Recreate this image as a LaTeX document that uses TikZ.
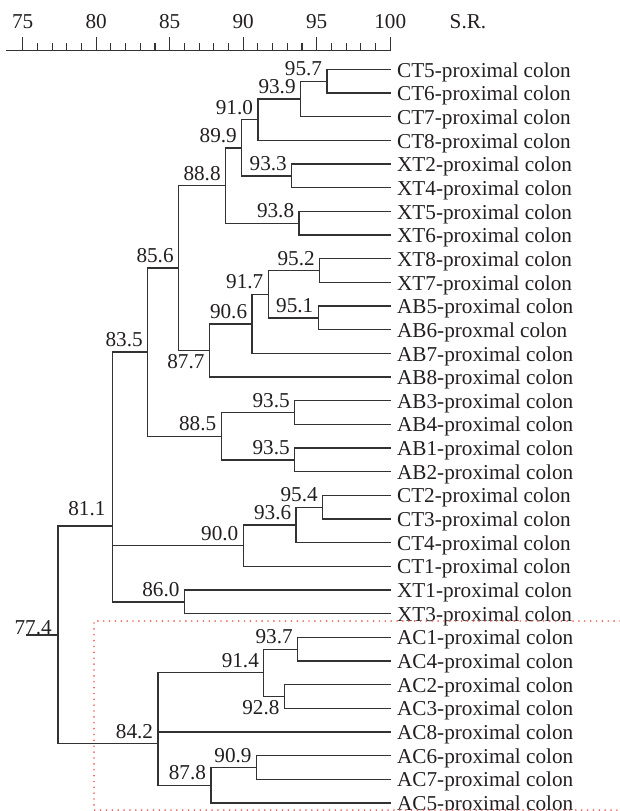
\documentclass[tikz,border=0pt]{standalone}
\usepackage{fontspec}
\setmainfont{Liberation Serif}
\usepackage{tikz}
\definecolor{treegray}{RGB}{50,50,50}
\definecolor{inkblack}{RGB}{35,31,32}
\definecolor{boxred}{RGB}{238,96,96}
\tikzset{
  strain/.style = {anchor=west, inner xsep=5pt, inner ysep=0pt,
    text height=11.4pt, text depth=0pt, text=inkblack},% leaf label
  simval/.style = {inner sep=0pt, text=inkblack},% similarity value
  simup/.style = {simval, anchor=base east, xshift=-3.5pt, yshift=4pt},
  simdown/.style = {simval, anchor=north east, xshift=-3.5pt, yshift=-3pt},
  branch/.style = {draw=treegray, line width=1pt, line cap=rect,
    to path={|- (\tikztotarget)}},
  rulerline/.style = {draw=treegray, line width=0.85pt},
  redbox/.style = {draw=boxred, line width=1.4pt, line cap=round,
    dash pattern=on 0pt off 4.4pt},
}

\begin{document}
\begin{tikzpicture}[x=11.025pt, y=-17.745pt, font=\fontsize{15.9}{18}\selectfont]
  \useasboundingbox (73.456,-2.937) rectangle (115.63,31.34);

  % scale
  \draw[rulerline] (73.86,-0.795) -- (100,-0.795);
  \foreach \v in {76,...,99}
    \draw[rulerline] (\v,-0.795) -- (\v,-1.107);
  \foreach \v in {75,80,...,100}{
    \draw[rulerline] (\v,-0.795) -- (\v,-1.361);
    \node[simval, anchor=base] (t\v) at (\v,-1.741) {\v};
  }
  \node[simval, anchor=base] (sr) at (105.29,-1.741) {S.R.};

  % leaves
  \foreach \nm/\txt [count=\i from 0] in {ct5/CT5-proximal colon, ct6/CT6-proximal colon,
      ct7/CT7-proximal colon, ct8/CT8-proximal colon, xt2/XT2-proximal colon,
      xt4/XT4-proximal colon, xt5/XT5-proximal colon, xt6/XT6-proximal colon,
      xt8/XT8-proximal colon, xt7/XT7-proximal colon, ab5/AB5-proximal colon,
      ab6/AB6-proxmal colon, ab7/AB7-proximal colon, ab8/AB8-proximal colon,
      ab3/AB3-proximal colon, ab4/AB4-proximal colon, ab1/AB1-proximal colon,
      ab2/AB2-proximal colon, ct2/CT2-proximal colon, ct3/CT3-proximal colon,
      ct4/CT4-proximal colon, ct1/CT1-proximal colon, xt1/XT1-proximal colon,
      xt3/XT3-proximal colon, ac1/AC1-proximal colon, ac4/AC4-proximal colon,
      ac2/AC2-proximal colon, ac3/AC3-proximal colon, ac8/AC8-proximal colon,
      ac6/AC6-proximal colon, ac7/AC7-proximal colon, ac5/AC5-proximal colon}
    \node[strain] (\nm) at (100,\i) {\txt};

  % joins
  \coordinate (s957) at (95.7,0.5);
  \coordinate (s939) at (93.9,1.25);
  \coordinate (s910) at (91.0,2.125);
  \coordinate (s933) at (93.3,4.5);
  \coordinate (s899) at (89.9,3.3125);
  \coordinate (s938) at (93.8,6.5);
  \coordinate (s888) at (88.8,4.906);
  \coordinate (s952) at (95.2,8.5);
  \coordinate (s951) at (95.1,10.5);
  \coordinate (s917) at (91.7,9.5);
  \coordinate (s906) at (90.6,10.75);
  \coordinate (s877) at (87.7,11.875);
  \coordinate (s856) at (85.6,8.39);
  \coordinate (s935a) at (93.5,14.5);
  \coordinate (s935b) at (93.5,16.5);
  \coordinate (s885) at (88.5,15.5);
  \coordinate (s835) at (83.5,11.945);
  \coordinate (s954) at (95.4,18.5);
  \coordinate (s936) at (93.6,19.25);
  \coordinate (s900) at (90.0,20.125);
  \coordinate (s860) at (86.0,22.5);
  \coordinate (s811) at (81.1,19.29);
  \coordinate (s937) at (93.7,24.5);
  \coordinate (s928) at (92.8,26.5);
  \coordinate (s914) at (91.4,25.5);
  \coordinate (s909) at (90.9,29.5);
  \coordinate (s878) at (87.8,30.25);
  \coordinate (s842) at (84.2,28.5);
  \coordinate (root) at (77.4,23.9);
  \coordinate (stem) at (75.3,23.9);

  % branches
  \path (s957) edge[branch] (ct5.west) edge[branch] (ct6.west);
  \path (s939) edge[branch] (s957) edge[branch] (ct7.west);
  \path (s910) edge[branch] (s939) edge[branch] (ct8.west);
  \path (s933) edge[branch] (xt2.west) edge[branch] (xt4.west);
  \path (s899) edge[branch] (s910) edge[branch] (s933);
  \path (s938) edge[branch] (xt5.west) edge[branch] (xt6.west);
  \path (s888) edge[branch] (s899) edge[branch] (s938);
  \path (s952) edge[branch] (xt8.west) edge[branch] (xt7.west);
  \path (s951) edge[branch] (ab5.west) edge[branch] (ab6.west);
  \path (s917) edge[branch] (s952) edge[branch] (s951);
  \path (s906) edge[branch] (s917) edge[branch] (ab7.west);
  \path (s877) edge[branch] (s906) edge[branch] (ab8.west);
  \path (s856) edge[branch] (s888) edge[branch] (s877);
  \path (s935a) edge[branch] (ab3.west) edge[branch] (ab4.west);
  \path (s935b) edge[branch] (ab1.west) edge[branch] (ab2.west);
  \path (s885) edge[branch] (s935a) edge[branch] (s935b);
  \path (s835) edge[branch] (s856) edge[branch] (s885);
  \path (s954) edge[branch] (ct2.west) edge[branch] (ct3.west);
  \path (s936) edge[branch] (s954) edge[branch] (ct4.west);
  \path (s900) edge[branch] (s936) edge[branch] (ct1.west);
  \path (s860) edge[branch] (xt1.west) edge[branch] (xt3.west);
  \path (s811) edge[branch] (s835) edge[branch] (s900) edge[branch] (s860);
  \path (s937) edge[branch] (ac1.west) edge[branch] (ac4.west);
  \path (s928) edge[branch] (ac2.west) edge[branch] (ac3.west);
  \path (s914) edge[branch] (s937) edge[branch] (s928);
  \path (s909) edge[branch] (ac6.west) edge[branch] (ac7.west);
  \path (s878) edge[branch] (s909) edge[branch] (ac5.west);
  \path (s842) edge[branch] (s914) edge[branch] (ac8.west) edge[branch] (s878);
  \path (root) edge[branch] (s811) edge[branch] (s842);
  \draw[branch] (stem) -- (root);

  % values
  \foreach \c/\v in {s957/95.7, s939/93.9, s910/91.0, s933/93.3, s899/89.9,
      s938/93.8, s888/88.8, s952/95.2, s951/95.1, s917/91.7, s906/90.6,
      s856/85.6, s935a/93.5, s935b/93.5, s885/88.5, s835/83.5, s954/95.4,
      s936/93.6, s900/90.0, s860/86.0, s937/93.7, s914/91.4, s909/90.9,
      s878/87.8, s842/84.2}
    \node[simup] (v\c) at (\c) {\v};
  \node[simdown] (vs877) at (s877) {87.7};
  \node[simdown] (vs928) at (s928) {92.8};
  \node[simup, xshift=-1.5pt, yshift=4pt] (vs811) at (s811) {81.1};
  \node[simval, anchor=base east, xshift=-4.5pt, yshift=0.5pt] (vroot) at (root) {77.4};

  % AC group
  \draw[redbox] (115.63,23.31) -- (79.85,23.31) -- (79.85,31.30) -- (115.63,31.30);
\end{tikzpicture}
\end{document}
